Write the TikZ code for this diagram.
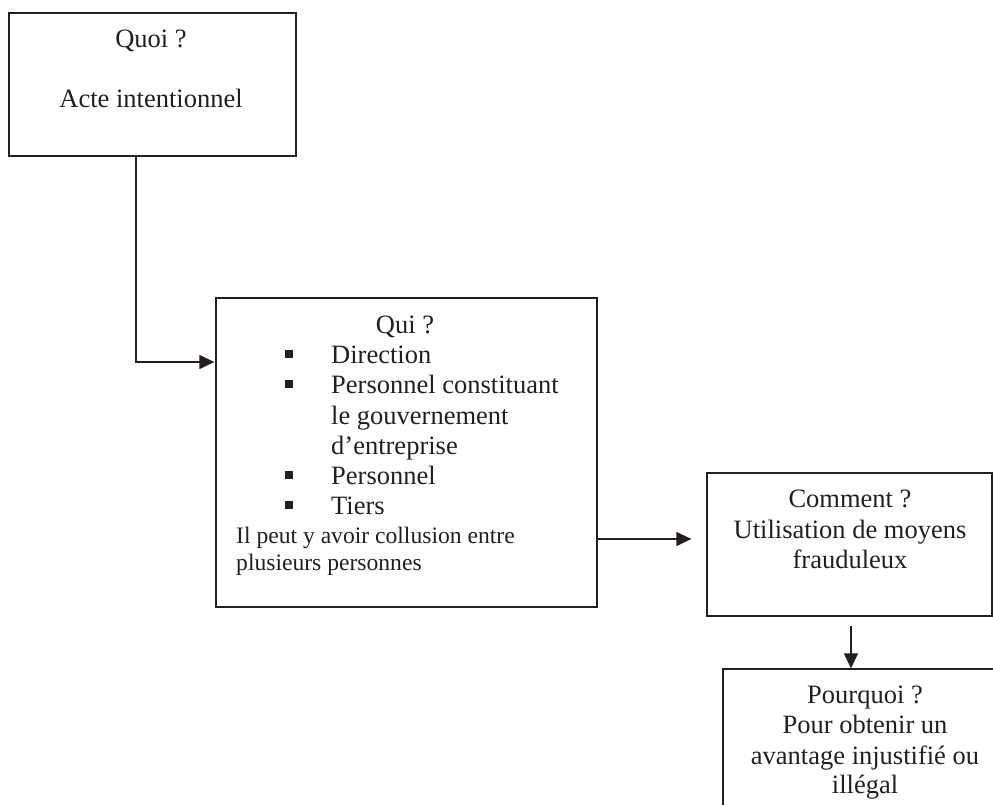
\documentclass[tikz,border=0pt]{standalone}
\usepackage{fontspec}
\setmainfont{Liberation Serif}
\usetikzlibrary{arrows.meta}

\definecolor{ink}{HTML}{231F20}

\tikzset{
  box/.style={draw=ink, line width=1.3pt, rectangle, inner sep=0pt},
  arr/.style={draw=ink, line width=1.3pt, -{Triangle[length=15pt,width=14pt]}},
  txt/.style={text=ink, inner sep=0pt, font=\fontsize{26.5}{30.5}\selectfont},
  small/.style={text=ink, inner sep=0pt, font=\fontsize{23.6}{27}\selectfont},
}

\begin{document}
\begin{tikzpicture}[x=1pt,y=-1pt]
\useasboundingbox (0,0) rectangle (993,805);

\begin{scope}
\clip (0,0) rectangle (993,805);

% tail of a line of text running above the page
\node[txt, font=\fontsize{26.5}{30.5}\selectfont\itshape, anchor=base] (cut) at (146,-6.5) {y};

% boxes
\node[box, minimum width=287pt, minimum height=143pt] (quoi) at (152.5,84.5) {};
\node[box, minimum width=381pt, minimum height=309pt] (qui) at (406.5,452.5) {};
\node[box, minimum width=285pt, minimum height=143pt] (comment) at (849.5,544.5) {};
\node[box, minimum width=284pt, minimum height=172pt] (pourquoi) at (865,755) {};

% Quoi ?
\node[txt, anchor=base] (quoiT) at (151,48) {Quoi ?};
\node[txt, anchor=base] (quoiD) at (151,108) {Acte intentionnel};

% Qui ?
\node[txt, anchor=base] (quiT) at (405,333) {Qui ?};
\node[txt, anchor=base west] (qa) at (331,363) {Direction};
\node[txt, anchor=base west] (qb) at (331,393) {Personnel constituant};
\node[txt, anchor=base west] (qc) at (331,424) {le gouvernement};
\node[txt, anchor=base west] (qd) at (331,454) {d’entreprise};
\node[txt, anchor=base west] (qe) at (331,484) {Personnel};
\node[txt, anchor=base west] (qf) at (331,514) {Tiers};
\foreach \yy in {363,393,484,514}
  \fill[ink] (285,\yy-13) rectangle (293,\yy-5);
\node[small, anchor=base west] (qg) at (236,543) {Il peut y avoir collusion entre};
\node[small, anchor=base west] (qh) at (236,570) {plusieurs personnes};

% Comment ?
\node[txt, anchor=base] (cT) at (850,507) {Comment ?};
\node[txt, anchor=base] (cA) at (850,538) {Utilisation de moyens};
\node[txt, anchor=base] (cB) at (850,568) {frauduleux};

% Pourquoi ?
\node[txt, anchor=base] (pT) at (865,703) {Pourquoi ?};
\node[txt, anchor=base] (pA) at (865,733) {Pour obtenir un};
\node[txt, anchor=base] (pB) at (865,764) {avantage injustifié ou};
\node[txt, anchor=base] (pC) at (865,793) {illégal};

% connectors
\draw[arr, shorten >=1pt] ([xshift=-16.5pt]quoi.south) |- ([yshift=90.5pt]qui.west);
\draw[arr, shorten >=15pt] ([yshift=-86.5pt]qui.east) -- ([yshift=-86.5pt]qui.east -| comment.west);
\draw[arr] ([xshift=1.5pt,yshift=-9pt]comment.south) -- ([xshift=1.5pt]comment.south |- pourquoi.north);
\end{scope}
\end{tikzpicture}
\end{document}
